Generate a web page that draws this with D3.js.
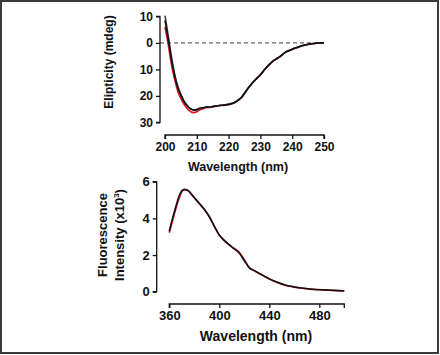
<!DOCTYPE html>
<html><head><meta charset="utf-8">
<script src="https://cdn.jsdelivr.net/npm/d3@7/dist/d3.min.js"></script>
<style>
html,body{margin:0;padding:0;background:#fff;}
svg text{font-family:"Liberation Sans",Arial,sans-serif;font-weight:bold;fill:#111;}
</style></head>
<body>
<svg id="chart" width="440" height="355"></svg>
<script>
// ---- CD spectrum data (top) ----
const cdWavelength = [200,201,202,203,204,205,206,207,208,209,210,211,212,213,214,215,216,217,218,219,220,221,222,223,224,225,226,227,228,229,230,231,232,233,234,235,236,237,238,239,240,241,242,243,244,245,246,247,248,249,250];
const cdBlack = [8.5,1.5,-6,-12.3,-16.8,-19.8,-22.2,-23.8,-24.9,-25.4,-25.2,-24.7,-24.5,-24.2,-24.3,-24.0,-23.8,-23.6,-23.5,-23.4,-23.2,-22.9,-22.4,-21.6,-20.6,-19.0,-17.3,-15.8,-14.4,-13.2,-12.0,-10.5,-9.1,-7.9,-6.8,-6.0,-5.3,-4.3,-3.4,-2.9,-2.4,-1.9,-1.5,-1.1,-0.8,-0.5,-0.3,-0.2,-0.1,0,0];
const cdNavy  = [10.3,2.8,-5,-11.6,-16.3,-19.4,-22.0,-23.6,-24.7,-25.2,-25.1,-24.7,-24.5,-24.2,-24.3,-24.0,-23.8,-23.6,-23.5,-23.4,-23.2,-22.9,-22.4,-21.6,-20.6,-19.0,-17.3,-15.8,-14.4,-13.2,-12.0,-10.5,-9.1,-7.9,-6.8,-6.0,-5.3,-4.3,-3.4,-2.9,-2.4,-1.9,-1.5,-1.1,-0.8,-0.5,-0.3,-0.2,-0.1,0,0];
const cdRed   = [6.0,-0.5,-8.0,-13.6,-18.2,-21.0,-23.2,-24.8,-25.9,-26.3,-26.0,-25.2,-24.8,-24.4,-24.4,-24.1,-23.9,-23.7,-23.6,-23.5,-23.3,-23.0,-22.5,-21.7,-20.7,-19.1,-17.4,-15.9,-14.5,-13.3,-12.1,-10.6,-9.2,-8.0,-6.9,-6.1,-5.4,-4.4,-3.5,-3.0,-2.5,-2.0,-1.6,-1.2,-0.9,-0.6,-0.4,-0.2,-0.1,0,0];
const cdXTicks = [200,210,220,230,240,250];
const cdYTicks = [10,0,-10,-20,-30];
const cdYTickLabels = ["10","0","10","20","30"];

// ---- Fluorescence data (bottom) ----
const flWavelength = [360,362,364,366,368,370,372,374,376,378,380,384,388,392,396,400,404,408,412,416,420,424,428,432,436,440,444,448,452,456,460,466,472,478,484,490,496,500];
const flBlack = [3.3,3.85,4.35,4.82,5.25,5.5,5.58,5.56,5.46,5.3,5.14,4.82,4.5,4.1,3.58,3.1,2.8,2.55,2.33,2.1,1.7,1.3,1.15,1.0,0.85,0.7,0.58,0.47,0.38,0.31,0.26,0.2,0.15,0.12,0.1,0.08,0.06,0.05];
const flRed   = [3.22,3.72,4.22,4.7,5.12,5.45,5.55,5.55,5.45,5.28,5.12,4.8,4.48,4.08,3.56,3.08,2.78,2.55,2.36,2.15,1.74,1.32,1.15,0.99,0.84,0.69,0.57,0.46,0.37,0.3,0.25,0.19,0.14,0.11,0.09,0.07,0.05,0.04];
const flXTicks = [360,400,440,480];
const flYTicks = [0,2,4,6];

const svg = d3.select("#chart");

// frame
svg.append("rect").attr("x",1).attr("y",1).attr("width",437).attr("height",352)
  .attr("fill","none").attr("stroke","#3a3a3a").attr("stroke-width",2);

function drawAxisY(g, scale, ticks, labels, xPos, fontSize){
  const ax = d3.axisLeft(scale).tickValues(ticks).tickSize(4).tickPadding(3)
    .tickFormat((d,i)=> labels ? labels[i] : d3.format("d")(d));
  const a = g.append("g").attr("transform",`translate(${xPos},0)`).call(ax);
  a.select(".domain").attr("stroke","#111").attr("stroke-width",1.3)
    .attr("d", `M-4,${scale(ticks[0])}H0V${scale(ticks[ticks.length-1])}H-4`);
  a.selectAll(".tick line").attr("stroke","#111").attr("stroke-width",1.3);
  a.selectAll("text").style("font-size",fontSize+"px").style("font-weight","bold")
    .style("font-family","'Liberation Sans',Arial,sans-serif").attr("fill","#111");
  return a;
}
function drawAxisX(g, scale, ticks, yPos, fontSize){
  const ax = d3.axisBottom(scale).tickValues(ticks).tickSize(4).tickPadding(3).tickFormat(d3.format("d"));
  const a = g.append("g").attr("transform",`translate(0,${yPos})`).call(ax);
  const r = scale.range();
  a.select(".domain").attr("stroke","#111").attr("stroke-width",1.3)
    .attr("d", `M${r[0]},4V0H${r[1]}V4`);
  a.selectAll(".tick line").attr("stroke","#111").attr("stroke-width",1.3);
  a.selectAll("text").style("font-size",fontSize+"px").style("font-weight","bold")
    .style("font-family","'Liberation Sans',Arial,sans-serif").attr("fill","#111");
  return a;
}

// ---- top chart ----
const gT = svg.append("g");
const xT = d3.scaleLinear().domain([200,250]).range([165,324]);
const yT = d3.scaleLinear().domain([-30,10]).range([122.4,16.4]);

gT.append("line").attr("x1",160).attr("x2",324).attr("y1",yT(0)).attr("y2",yT(0))
  .attr("stroke","#666").attr("stroke-width",1.2).attr("stroke-dasharray","4,3");

const lineT = d3.line().x((d)=>xT(d[0])).y((d)=>yT(d[1])).curve(d3.curveMonotoneX);
[[cdRed,"#e0141e"],[cdNavy,"#3c4060"],[cdBlack,"#111"]].forEach(([vals,col])=>{
  gT.append("path").datum(cdWavelength.map((w,i)=>[w,vals[i]]))
    .attr("d",lineT).attr("fill","none").attr("stroke",col).attr("stroke-width",1.6);
});
drawAxisY(gT, yT, cdYTicks, cdYTickLabels, 160, 12);
drawAxisX(gT, xT, cdXTicks, 135, 12);
gT.append("text").attr("x",238).attr("y",171).attr("text-anchor","middle")
  .style("font-size","12.5px").text("Wavelength (nm)");
gT.append("text").attr("transform","translate(113,62) rotate(-90)").attr("text-anchor","middle")
  .style("font-size","12px").text("Elipticity (mdeg)");

// ---- bottom chart ----
const gB = svg.append("g");
const xB = d3.scaleLinear().domain([360,500]).range([169.3,344.3]);
const yB = d3.scaleLinear().domain([0,6]).range([291.7,181.7]);
const lineB = d3.line().x((d)=>xB(d[0])).y((d)=>yB(d[1])).curve(d3.curveMonotoneX);
[[flRed,"#e0141e"],[flBlack,"#111"]].forEach(([vals,col])=>{
  gB.append("path").datum(flWavelength.map((w,i)=>[w,vals[i]]))
    .attr("d",lineB).attr("fill","none").attr("stroke",col).attr("stroke-width",1.6);
});
drawAxisY(gB, yB, flYTicks, null, 156.7, 13);
drawAxisX(gB, xB, flXTicks, 304, 13);
gB.append("text").attr("x",256).attr("y",341).attr("text-anchor","middle")
  .style("font-size","14px").text("Wavelength (nm)");
const yl = gB.append("text").attr("transform","translate(0,235) rotate(-90)").attr("text-anchor","middle")
  .style("font-size","13px");
yl.append("tspan").attr("x",0).attr("y",107).text("Fluorescence");
yl.append("tspan").attr("x",0).attr("y",124).text("Intensity (x10");
yl.append("tspan").attr("dy",-5).style("font-size","8px").text("3");
yl.append("tspan").attr("dy",5).text(")");
</script>
</body></html>
